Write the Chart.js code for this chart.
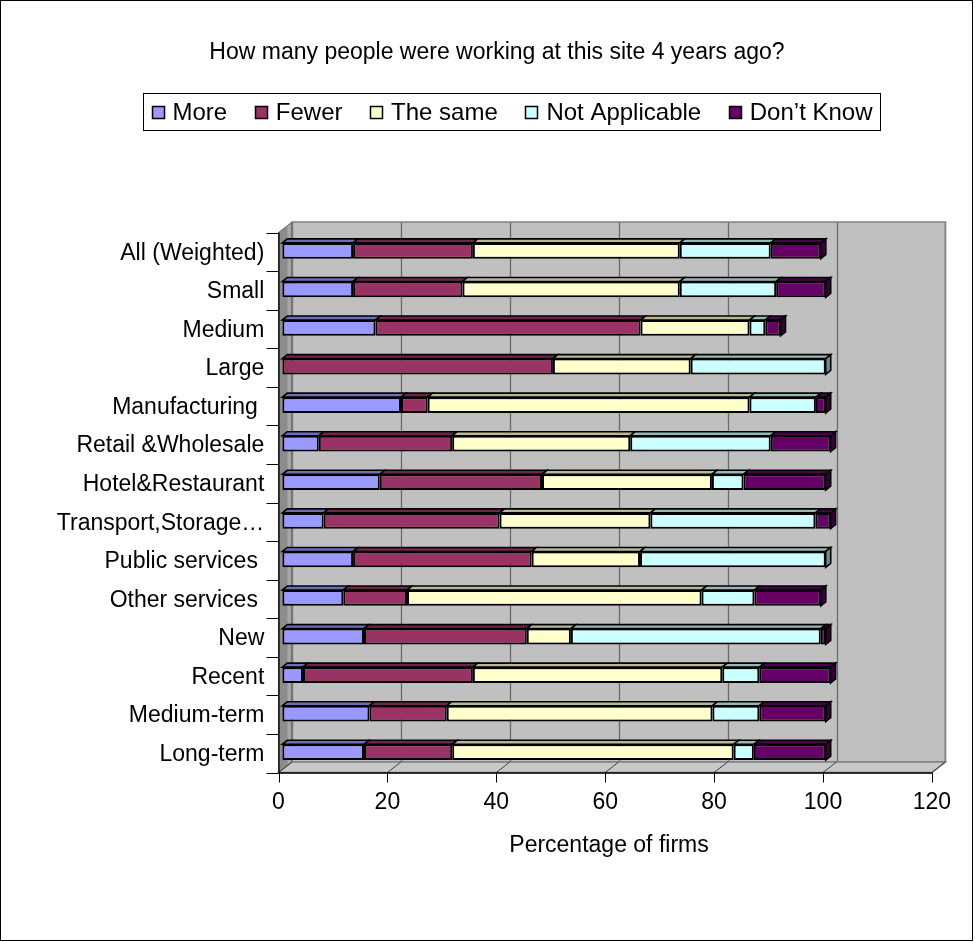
<!DOCTYPE html>
<html>
<head>
<meta charset="utf-8">
<script src="https://cdn.jsdelivr.net/npm/chart.js@4.4.1/dist/chart.umd.min.js"></script>
<style>
  html, body { margin: 0; padding: 0; background: #ffffff; }
  #wrap { width: 975px; height: 942px; position: relative; }
</style>
</head>
<body>
<div id="wrap"><canvas id="chart"></canvas></div>
<script>
// ---- data ----
const chartTitle = 'How many people were working at this site 4 years ago?';
const axisTitle = 'Percentage of firms';
const categories = [
  'All (Weighted)', 'Small', 'Medium', 'Large', 'Manufacturing ',
  'Retail &Wholesale', 'Hotel&Restaurant', 'Transport,Storage\u2026',
  'Public services ', 'Other services ', 'New', 'Recent', 'Medium-term', 'Long-term'
];
const seriesNames = ['More', 'Fewer', 'The same', 'Not Applicable', 'Don\u2019t Know'];
const more          = [13.0, 13.0, 17.1,  0.0, 21.8,  6.7, 17.9,  7.6, 13.0, 11.2, 15.0,  3.8, 16.0, 15.0];
const fewer         = [22.0, 20.1, 48.7, 49.7,  4.9, 24.5, 29.8, 32.3, 32.8, 11.7, 29.9, 31.2, 14.2, 16.2];
const theSame       = [38.0, 39.9, 20.0, 25.3, 59.1, 32.7, 31.2, 27.7, 19.9, 54.1,  8.1, 45.8, 48.8, 51.7];
const notApplicable = [16.7, 17.7,  2.9, 24.8, 12.2, 25.8,  5.8, 30.3, 34.1,  9.7, 45.9,  6.8,  8.6,  3.7];
const dontKnow      = [ 9.2,  9.1,  2.8,  0.0,  1.8, 11.0, 15.1,  2.8,  0.0, 12.2,  0.9, 13.1, 12.2, 13.2];
const xTicks = [0, 20, 40, 60, 80, 100, 120];

// ---- styling ----
const FONT = "'Liberation Sans', Arial, sans-serif";
const TEXT_SIZE = 23;
const colors = ['#9999FF', '#993366', '#FFFFCC', '#CCFFFF', '#660066'];
const WALL = { dx: 13.5, dy: -10.5 };  // depth of the walls / floor
const BAR = { dx: 5, dy: -4 };         // depth of each bar
const FRONT = { dx: -3.8, dy: 1 };     // front plane relative to the bar faces

function shade(hex, f) {
  const n = parseInt(hex.slice(1), 16);
  const r = (n >> 16) & 255, g = (n >> 8) & 255, b = n & 255;
  return `rgb(${Math.round(r * f)},${Math.round(g * f)},${Math.round(b * f)})`;
}
function poly(ctx, pts, fill, stroke, lw) {
  ctx.beginPath();
  pts.forEach((p, i) => i ? ctx.lineTo(p[0], p[1]) : ctx.moveTo(p[0], p[1]));
  ctx.closePath();
  if (fill) { ctx.fillStyle = fill; ctx.fill(); }
  if (stroke) { ctx.strokeStyle = stroke; ctx.lineWidth = lw || 1; ctx.stroke(); }
}
function line(ctx, x1, y1, x2, y2, color, lw) {
  ctx.beginPath();
  ctx.moveTo(x1, y1); ctx.lineTo(x2, y2);
  ctx.strokeStyle = color; ctx.lineWidth = lw || 1; ctx.stroke();
}

// walls, floor, axes and the top / side faces of the bars
const frame3d = {
  id: 'frame3d',
  beforeDatasetsDraw(chart) {
    const { ctx, chartArea: ca, scales: { x } } = chart;
    const fx = v => x.getPixelForValue(v) + FRONT.dx;
    const top = ca.top + FRONT.dy, bot = ca.bottom + FRONT.dy;
    const x0 = fx(xTicks[0]), x1 = fx(xTicks[xTicks.length - 1]);
    ctx.save();

    // back wall
    ctx.fillStyle = '#c0c0c0';
    ctx.fillRect(x0 + WALL.dx, top + WALL.dy, x1 - x0, bot - top);
    xTicks.forEach(v => {
      const gx = Math.round(fx(v) + WALL.dx) + 0.5;
      line(ctx, gx, top + WALL.dy, gx, bot + WALL.dy, '#6a6a6a', 1.3);
    });
    ctx.strokeStyle = '#808080'; ctx.lineWidth = 1.5;
    ctx.strokeRect(x0 + WALL.dx, top + WALL.dy, x1 - x0, bot - top);

    // left wall
    poly(ctx, [[x0, top], [x0 + WALL.dx, top + WALL.dy], [x0 + WALL.dx, bot + WALL.dy], [x0, bot]],
      '#8c8c8c', '#6a6a6a', 1);
    line(ctx, x0 + WALL.dx - 3, top + WALL.dy + 3, x0 + WALL.dx - 3, bot + WALL.dy + 2, '#a8a8a8', 3);

    // floor
    poly(ctx, [[x0, bot], [x1, bot], [x1 + WALL.dx, bot + WALL.dy], [x0 + WALL.dx, bot + WALL.dy]],
      '#c8c8c8', '#808080', 1.5);
    xTicks.forEach(v => line(ctx, fx(v), bot, fx(v) + WALL.dx, bot + WALL.dy, '#404040', 1));

    // front axis line, value ticks, category axis and ticks
    line(ctx, x0, bot + 0.5, x1, bot + 0.5, '#000', 1.3);
    xTicks.forEach(v => line(ctx, Math.round(fx(v)) + 0.5, bot, Math.round(fx(v)) + 0.5, bot + 10, '#000', 1));
    line(ctx, x0 + 0.5, top, x0 + 0.5, bot, '#000', 1.3);
    const n = categories.length;
    for (let i = 0; i <= n; i++) {
      const yy = Math.round(top + i * (bot - top) / n) + 0.5;
      line(ctx, x0 - 12, yy, x0, yy, '#000', 1);
    }

    // bar tops and end faces
    for (let j = 0; j < n; j++) {
      let last = null;
      chart.data.datasets.forEach((ds, i) => {
        const el = chart.getDatasetMeta(i).data[j];
        if (!el || !ds.data[j]) return;
        const xa = Math.min(el.base, el.x), xb = Math.max(el.base, el.x);
        const t = el.y - el.height / 2, b = el.y + el.height / 2;
        poly(ctx, [[xa, t], [xb, t], [xb + BAR.dx, t + BAR.dy], [xa + BAR.dx, t + BAR.dy]],
          shade(colors[i], 0.72), '#000', 1.6);
        last = { xb, t, b, c: colors[i] };
      });
      if (last) {
        poly(ctx, [[last.xb, last.t], [last.xb + BAR.dx, last.t + BAR.dy],
          [last.xb + BAR.dx, last.b + BAR.dy], [last.xb, last.b]], shade(last.c, 0.55), '#000', 1.6);
      }
    }
    ctx.restore();
  }
};

// chart title, boxed legend and outer frame
const headings = {
  id: 'headings',
  afterDraw(chart) {
    const { ctx } = chart;
    ctx.save();
    ctx.fillStyle = '#000';
    ctx.font = `${TEXT_SIZE}px ${FONT}`;
    ctx.textBaseline = 'middle';
    ctx.textAlign = 'center';
    ctx.fillText(chartTitle, 497, 53);

    // legend
    const box = { l: 143.5, t: 93.5, r: 880.5, b: 130.5 };
    ctx.fillStyle = '#fff';
    ctx.fillRect(box.l, box.t, box.r - box.l, box.b - box.t);
    ctx.strokeStyle = '#000'; ctx.lineWidth = 1;
    ctx.strokeRect(box.l, box.t, box.r - box.l, box.b - box.t);
    ctx.font = `24px ${FONT}`;
    const mk = 12, gap = 9, pad = 8;
    const widths = seriesNames.map(s => ctx.measureText(s).width);
    const used = widths.reduce((a, w) => a + mk + gap + w, 0);
    const itemGap = (box.r - box.l - 2 * pad - used) / (seriesNames.length - 1);
    let px = box.l + pad;
    const cy = (box.t + box.b) / 2;
    ctx.textAlign = 'left';
    seriesNames.forEach((s, i) => {
      ctx.fillStyle = colors[i];
      ctx.fillRect(Math.round(px) + 0.5, Math.round(cy - mk / 2) + 0.5, mk, mk);
      ctx.strokeStyle = '#000'; ctx.lineWidth = 1.5;
      ctx.strokeRect(Math.round(px) + 0.5, Math.round(cy - mk / 2) + 0.5, mk, mk);
      ctx.fillStyle = '#000';
      ctx.fillText(s, px + mk + gap, cy + 1);
      px += mk + gap + widths[i] + itemGap;
    });

    ctx.strokeStyle = '#000'; ctx.lineWidth = 1;
    ctx.strokeRect(0.5, 0.5, 972, 940);
    ctx.restore();
  }
};

const datasets = [more, fewer, theSame, notApplicable, dontKnow].map((values, i) => ({
  label: seriesNames[i],
  data: values,
  backgroundColor: colors[i],
  borderColor: '#000',
  borderWidth: 2,
  borderSkipped: false,
  categoryPercentage: 1,
  barPercentage: 0.41
}));

new Chart(document.getElementById('chart'), {
  type: 'bar',
  data: { labels: categories, datasets },
  plugins: [frame3d, headings],
  options: {
    indexAxis: 'y',
    responsive: true,
    maintainAspectRatio: false,
    animation: false,
    layout: { padding: { top: 231.5, right: 39.3, bottom: 0, left: 0 } },
    plugins: { legend: { display: false }, tooltip: { enabled: false }, title: { display: false } },
    scales: {
      x: {
        stacked: true,
        min: 0, max: 120,
        afterBuildTicks: s => { s.ticks = xTicks.map(v => ({ value: v })); },
        afterFit: s => { s.height = 942 - 771.5; },
        grid: { display: false, drawTicks: false },
        border: { display: false },
        ticks: { color: '#000', font: { family: FONT, size: TEXT_SIZE }, padding: 17, labelOffset: -3.8, maxRotation: 0 },
        title: { display: true, text: axisTitle, color: '#000', font: { family: FONT, size: TEXT_SIZE }, padding: { top: 0, bottom: 83 } }
      },
      y: {
        stacked: true,
        afterFit: s => { s.width = 282.3; },
        grid: { display: false, drawTicks: false },
        border: { display: false },
        ticks: { color: '#000', font: { family: FONT, size: TEXT_SIZE }, padding: 18, labelOffset: 2.5, autoSkip: false }
      }
    }
  }
});
</script>
</body>
</html>
